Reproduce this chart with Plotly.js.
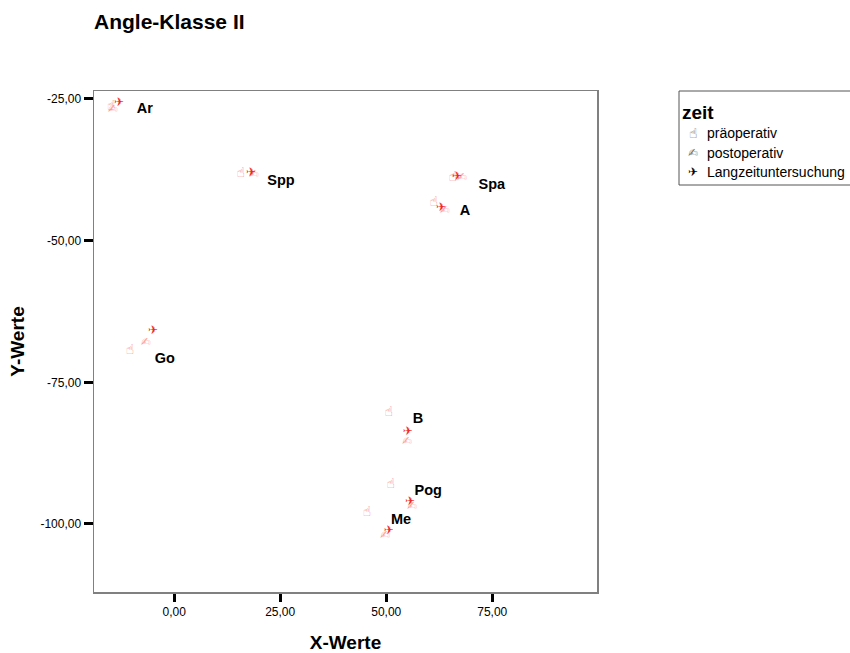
<!DOCTYPE html>
<html>
<head>
<meta charset="utf-8">
<script src="https://cdn.plot.ly/plotly-3.0.1.min.js"></script>
<style>html,body{margin:0;padding:0;background:#fff;}#chart{width:850px;height:653px;}</style>
</head>
<body>
<div id="chart"></div>
<script>
// Landmarks
const landmarks = ['Ar', 'Spp', 'Spa', 'A', 'Go', 'B', 'Pog', 'Me'];
// präoperativ
const preX = [-14.8, 15.7, 65.7, 61.2, -10.4, 50.6, 51.1, 45.5];
const preY = [-26.3, -38.2, -38.8, -43.3, -69.3, -80.4, -93.1, -98.0];
// postoperativ
const postX = [-14.5, 18.8, 67.9, 63.8, -6.7, 54.9, 56.1, 49.7];
const postY = [-27.0, -38.4, -38.9, -44.8, -68.0, -85.5, -97.0, -102.1];
// Langzeituntersuchung
const langX = [-13.0, 18.1, 66.7, 62.9, -5.0, 55.1, 55.6, 50.6];
const langY = [-25.8, -38.1, -38.8, -44.2, -65.9, -83.8, -96.1, -101.2];
// label positions
const labelX = [-6.9, 25.2, 74.9, 68.6, -2.2, 57.5, 59.9, 53.5];
const labelY = [-26.9, -39.5, -40.2, -44.8, -70.9, -81.6, -94.3, -99.3];

const xTickVals = [0, 25, 50, 75];
const xTickText = ['0,00', '25,00', '50,00', '75,00'];
const yTickVals = [-25, -50, -75, -100];
const yTickText = ['-25,00', '-50,00', '-75,00', '-100,00'];

const legendNames = ['präoperativ', 'postoperativ', 'Langzeituntersuchung'];
const glyphs = ['\u261D', '\u270D', '\u2708'];
const glyphSizes = [14, 12, 12];
const glyphColors = ['rgba(240,30,30,0.7)', 'rgba(255,60,60,0.5)', 'rgba(240,0,0,0.85)'];
const legendGlyphColors = ['#555', '#777', '#000'];

const glyphFont = 'DejaVu Sans, sans-serif';
const txtFont = 'Liberation Sans, Arial, sans-serif';

function glyphTrace(xs, ys, i) {
  return {
    x: xs, y: ys, mode: 'text', type: 'scatter',
    text: xs.map(() => glyphs[i]),
    textposition: 'middle center',
    textfont: {family: glyphFont, size: glyphSizes[i], color: glyphColors[i]},
    name: legendNames[i], showlegend: false, hoverinfo: 'x+y+name'
  };
}

const traces = [
  glyphTrace(preX, preY, 0),
  glyphTrace(postX, postY, 1),
  glyphTrace(langX, langY, 2),
  {
    x: labelX, y: labelY, mode: 'text', type: 'scatter',
    text: landmarks, textposition: 'middle center',
    textfont: {family: txtFont, size: 14.5, color: '#000', weight: 700},
    showlegend: false, hoverinfo: 'text'
  }
];

// legend built from annotations
const annotations = [{
  xref: 'paper', yref: 'paper', x: (680 - 94) / 503, y: (592 - 112) / 501, xanchor: 'left', yanchor: 'middle',
  text: 'zeit', showarrow: false,
  font: {family: txtFont, size: 19, color: '#000', weight: 700}
}];
const legPy = [133, 153, 172];
legendNames.forEach((n, i) => {
  const yy = (592 - legPy[i]) / 501;
  annotations.push({
    xref: 'paper', yref: 'paper', x: (693 - 94) / 503, y: yy, xanchor: 'center', yanchor: 'middle',
    text: glyphs[i], showarrow: false,
    font: {family: glyphFont, size: glyphSizes[i], color: legendGlyphColors[i]}
  });
  annotations.push({
    xref: 'paper', yref: 'paper', x: (705 - 94) / 503, y: yy, xanchor: 'left', yanchor: 'middle',
    text: n, showarrow: false,
    font: {family: txtFont, size: 14, color: '#000'}
  });
});

const layout = {
  width: 850, height: 653,
  margin: {l: 94, r: 253, t: 91, b: 61},
  paper_bgcolor: '#fff', plot_bgcolor: '#fff',
  showlegend: false,
  title: {
    text: 'Angle-Klasse II', x: 94 / 850, xanchor: 'left', xref: 'container',
    y: 1 - 22 / 653, yanchor: 'middle', yref: 'container',
    font: {family: txtFont, size: 21, color: '#000', weight: 700}
  },
  xaxis: {
    range: [-18.9, 99.7], tickvals: xTickVals, ticktext: xTickText,
    ticks: 'outside', ticklen: 8, tickwidth: 3, tickcolor: '#000',
    showgrid: false, zeroline: false, showline: true, mirror: true,
    linecolor: '#808080', linewidth: 1.5,
    tickfont: {family: txtFont, size: 12, color: '#000'},
    title: {text: 'X-Werte', standoff: 20, font: {family: txtFont, size: 19, color: '#000', weight: 700}}
  },
  yaxis: {
    range: [-112.0, -23.6], tickvals: yTickVals, ticktext: yTickText,
    ticks: 'outside', ticklen: 9, tickwidth: 3, tickcolor: '#000',
    showgrid: false, zeroline: false, showline: true, mirror: true,
    linecolor: '#808080', linewidth: 1.5,
    tickfont: {family: txtFont, size: 12, color: '#000'},
    title: {text: 'Y-Werte', standoff: 10, font: {family: txtFont, size: 19, color: '#000', weight: 700}}
  },
  shapes: [{
    type: 'rect', xref: 'paper', yref: 'paper',
    x0: (679 - 94) / 503, x1: (856 - 94) / 503, y0: (592 - 185) / 501, y1: (592 - 91) / 501,
    line: {color: '#555', width: 1}, fillcolor: 'rgba(0,0,0,0)'
  }],
  annotations: annotations
};

Plotly.newPlot('chart', traces, layout, {displayModeBar: false, staticPlot: true});
</script>
</body>
</html>
